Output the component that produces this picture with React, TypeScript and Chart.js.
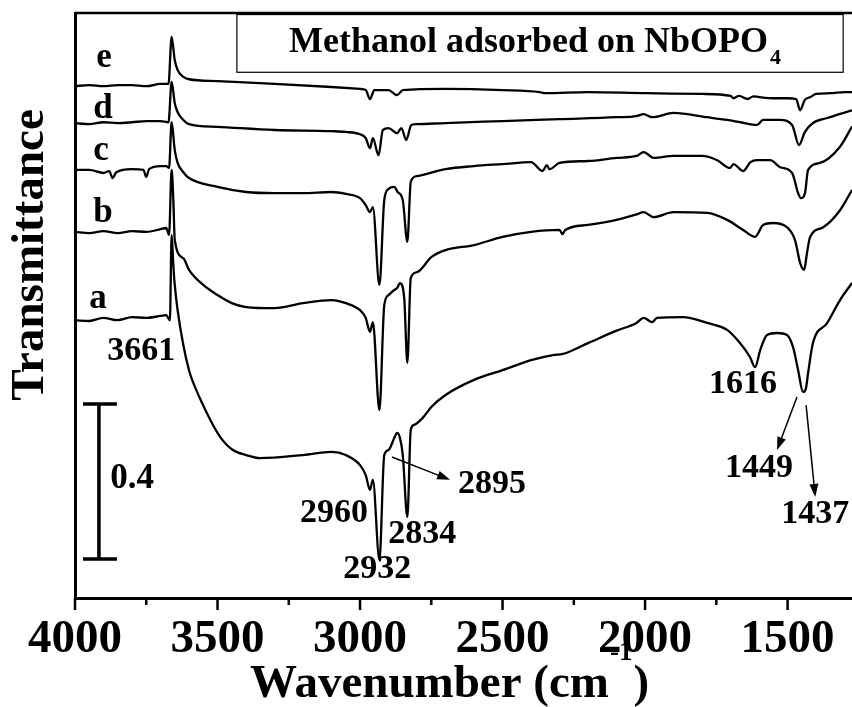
import React, { useEffect, useRef } from 'react';
import { Chart, registerables } from 'chart.js';

Chart.register(...registerables);

const FAMILY = "'Liberation Serif', 'Times New Roman', Times, serif";

// ---- spectra (wavenumber in cm-1, offset transmittance) ----
const waveA = [4000, 3950, 3900, 3850, 3800, 3750, 3700, 3680, 3667, 3661, 3655, 3650, 3640, 3620, 3600, 3589, 3537, 3491, 3446, 3400, 3351, 3200, 3100, 3050, 3000, 2980, 2965, 2955, 2932, 2915, 2900, 2880, 2870, 2860, 2850, 2834, 2822, 2810, 2780, 2750, 2700, 2600, 2500, 2400, 2323, 2288, 2200, 2100, 2030, 2005, 1975, 1958, 1867, 1782, 1712, 1667, 1632, 1614, 1596, 1572, 1537, 1502, 1481, 1463, 1446, 1436, 1428, 1411, 1361, 1316, 1274];
const transA = [0.717, 0.715, 0.723, 0.717, 0.725, 0.723, 0.728, 0.730, 0.717, 0.937, 0.859, 0.808, 0.743, 0.653, 0.588, 0.563, 0.477, 0.416, 0.382, 0.369, 0.361, 0.369, 0.377, 0.369, 0.343, 0.317, 0.279, 0.305, 0.098, 0.369, 0.382, 0.413, 0.426, 0.413, 0.369, 0.209, 0.434, 0.447, 0.465, 0.493, 0.524, 0.563, 0.588, 0.614, 0.627, 0.630, 0.658, 0.690, 0.710, 0.723, 0.712, 0.723, 0.725, 0.710, 0.692, 0.658, 0.622, 0.596, 0.640, 0.679, 0.684, 0.679, 0.648, 0.588, 0.532, 0.540, 0.581, 0.658, 0.710, 0.769, 0.813];

const waveB = [4000, 3950, 3900, 3850, 3800, 3750, 3700, 3680, 3670, 3661, 3655, 3650, 3620, 3600, 3550, 3500, 3450, 3400, 3300, 3200, 3100, 3050, 3000, 2980, 2965, 2955, 2932, 2915, 2900, 2880, 2870, 2860, 2845, 2834, 2822, 2800, 2750, 2700, 2600, 2500, 2400, 2300, 2290, 2280, 2200, 2100, 2030, 2005, 1970, 1900, 1782, 1712, 1656, 1614, 1586, 1551, 1502, 1474, 1456, 1442, 1432, 1421, 1375, 1316, 1274];
const transB = [0.945, 0.942, 0.947, 0.942, 0.947, 0.945, 0.952, 0.955, 0.937, 1.105, 1.027, 0.924, 0.877, 0.847, 0.808, 0.782, 0.761, 0.751, 0.748, 0.761, 0.769, 0.761, 0.743, 0.723, 0.687, 0.712, 0.485, 0.756, 0.782, 0.795, 0.800, 0.813, 0.774, 0.607, 0.826, 0.841, 0.880, 0.898, 0.911, 0.932, 0.945, 0.950, 0.939, 0.950, 0.963, 0.976, 0.990, 0.996, 0.983, 0.996, 0.994, 0.976, 0.950, 0.932, 0.963, 0.968, 0.957, 0.924, 0.865, 0.847, 0.890, 0.932, 0.957, 1.001, 1.053];

const waveC = [4000, 3950, 3900, 3880, 3868, 3855, 3800, 3760, 3750, 3740, 3700, 3680, 3670, 3661, 3650, 3640, 3620, 3600, 3500, 3400, 3300, 3200, 3100, 3050, 3000, 2980, 2965, 2955, 2932, 2915, 2900, 2880, 2868, 2850, 2834, 2822, 2800, 2700, 2600, 2500, 2400, 2360, 2345, 2335, 2300, 2200, 2100, 2030, 2005, 1970, 1900, 1800, 1747, 1702, 1690, 1656, 1630, 1607, 1561, 1526, 1484, 1463, 1453, 1439, 1428, 1386, 1316, 1274];
const transC = [1.105, 1.105, 1.097, 1.102, 1.084, 1.099, 1.107, 1.105, 1.087, 1.107, 1.115, 1.115, 1.110, 1.228, 1.156, 1.123, 1.099, 1.084, 1.061, 1.048, 1.045, 1.045, 1.048, 1.043, 1.032, 1.014, 0.996, 1.009, 0.808, 1.027, 1.056, 1.061, 1.048, 1.027, 0.919, 1.074, 1.089, 1.107, 1.115, 1.120, 1.125, 1.102, 1.117, 1.107, 1.123, 1.128, 1.136, 1.141, 1.151, 1.136, 1.141, 1.141, 1.130, 1.110, 1.120, 1.102, 1.125, 1.130, 1.130, 1.112, 1.097, 1.045, 1.032, 1.045, 1.105, 1.123, 1.165, 1.217];

const waveD = [4000, 3950, 3900, 3850, 3800, 3750, 3700, 3672, 3661, 3650, 3640, 3620, 3600, 3500, 3300, 3100, 3050, 3000, 2980, 2965, 2955, 2935, 2920, 2900, 2870, 2855, 2838, 2820, 2800, 2700, 2500, 2300, 2100, 2030, 2005, 1975, 1900, 1782, 1712, 1665, 1607, 1586, 1526, 1484, 1460, 1439, 1411, 1361, 1274];
const transD = [1.226, 1.223, 1.228, 1.226, 1.228, 1.231, 1.231, 1.228, 1.332, 1.277, 1.254, 1.234, 1.223, 1.216, 1.208, 1.205, 1.203, 1.197, 1.187, 1.161, 1.187, 1.143, 1.208, 1.213, 1.200, 1.213, 1.182, 1.221, 1.223, 1.226, 1.231, 1.236, 1.241, 1.244, 1.249, 1.241, 1.252, 1.241, 1.234, 1.228, 1.221, 1.234, 1.234, 1.221, 1.169, 1.203, 1.226, 1.239, 1.259];

const waveE = [4000, 3950, 3900, 3850, 3800, 3750, 3700, 3672, 3661, 3650, 3640, 3620, 3600, 3500, 3300, 3100, 3000, 2980, 2965, 2950, 2900, 2870, 2850, 2700, 2500, 2370, 2350, 2200, 2000, 1800, 1700, 1690, 1670, 1640, 1620, 1600, 1550, 1500, 1470, 1456, 1440, 1420, 1400, 1350, 1300, 1274];
const transE = [1.321, 1.324, 1.321, 1.324, 1.324, 1.321, 1.327, 1.327, 1.448, 1.388, 1.363, 1.345, 1.339, 1.334, 1.327, 1.319, 1.314, 1.311, 1.288, 1.311, 1.311, 1.298, 1.311, 1.314, 1.311, 1.306, 1.303, 1.306, 1.303, 1.301, 1.296, 1.290, 1.296, 1.288, 1.295, 1.293, 1.290, 1.290, 1.288, 1.259, 1.285, 1.293, 1.301, 1.303, 1.306, 1.306];

// ---- axis ----
const X_MIN = 1274;
const X_MAX = 4000;
const Y_MIN = 0;
const Y_MAX = 1.51;
const xTickValues = [1500, 2000, 2500, 3000, 3500, 4000];
const xMinorTickValues = [1500, 1750, 2000, 2250, 2500, 2750, 3000, 3250, 3500, 3750, 4000];

// ---- annotations ----
const curveNames = ['a', 'b', 'c', 'd', 'e'];
const curveNameX = [3919, 3902, 3909, 3902, 3898];
const curveNameY = [0.748, 0.970, 1.130, 1.239, 1.370];

const peakLabels = ['3661', '2960', '2932', '2834', '2895', '1616', '1449', '1437'];
const peakLabelX = [3768, 3091, 2940, 2782, 2537, 1656, 1600, 1403];
const peakLabelY = [0.614, 0.196, 0.052, 0.142, 0.271, 0.529, 0.312, 0.194];

const arrowFromX = [2888, 1467, 1435];
const arrowFromY = [0.364, 0.519, 0.498];
const arrowToX = [2684, 1537, 1403];
const arrowToY = [0.305, 0.382, 0.261];

const scaleBarX = 3916;
const scaleBarBottom = 0.1006;
const scaleBarLength = 0.4;
const scaleBarCapX = [3972, 3853];
const scaleBarLabel = '0.4';
const scaleBarLabelX = 3800;
const scaleBarLabelY = 0.284;

const titleMain = 'Methanol adsorbed on NbOPO';
const titleSub = '4';
const titleBoxX = [3432, 1305];
const titleBoxY = [1.357, 1.506];
const titleTextX = 3249;
const titleTextY = 1.409;

const xTitleMain = 'Wavenumber (cm';
const xTitleSup = '-1';
const xTitleEnd = ')';
const yTitle = 'Transmittance';

const toPoints = (xs: number[], ys: number[]) => xs.map((x, i) => ({ x, y: ys[i] }));

const overlayPlugin = {
  id: 'overlay',
  afterDraw(chart: any) {
    const { ctx, chartArea, scales } = chart;
    const xs = scales.x;
    const ys = scales.y;
    const X = (v: number) => xs.getPixelForValue(v);
    const Y = (v: number) => ys.getPixelForValue(v);
    ctx.save();
    ctx.strokeStyle = '#000';
    ctx.fillStyle = '#000';

    // top frame line
    ctx.lineWidth = 2.5;
    ctx.beginPath();
    ctx.moveTo(chartArea.left, chartArea.top);
    ctx.lineTo(chartArea.right, chartArea.top);
    ctx.stroke();

    // bottom tick marks (major + minor)
    ctx.lineWidth = 2.5;
    xMinorTickValues.forEach((v) => {
      const px = X(v);
      const len = xTickValues.includes(v) ? 12 : 7;
      ctx.beginPath();
      ctx.moveTo(px, chartArea.bottom);
      ctx.lineTo(px, chartArea.bottom + len);
      ctx.stroke();
    });

    // title box
    ctx.lineWidth = 1.2;
    const bx0 = X(titleBoxX[0]);
    const bx1 = X(titleBoxX[1]);
    const by0 = Y(titleBoxY[1]);
    const by1 = Y(titleBoxY[0]);
    ctx.strokeRect(bx0, by0, bx1 - bx0, by1 - by0);
    ctx.font = `bold 36px ${FAMILY}`;
    ctx.textAlign = 'left';
    ctx.textBaseline = 'alphabetic';
    const tx = X(titleTextX);
    const ty = Y(titleTextY);
    ctx.fillText(titleMain, tx, ty);
    const tw = ctx.measureText(titleMain).width;
    ctx.font = `bold 22px ${FAMILY}`;
    ctx.fillText(titleSub, tx + tw + 2, ty + 12);

    // curve names
    ctx.textAlign = 'center';
    ctx.font = `bold 35px ${FAMILY}`;
    curveNames.forEach((n, i) => ctx.fillText(n, X(curveNameX[i]), Y(curveNameY[i])));

    // peak labels
    ctx.font = `bold 34px ${FAMILY}`;
    peakLabels.forEach((t, i) => ctx.fillText(t, X(peakLabelX[i]), Y(peakLabelY[i])));

    // arrows
    ctx.lineWidth = 1.5;
    arrowFromX.forEach((_, i) => {
      const x0 = X(arrowFromX[i]);
      const y0 = Y(arrowFromY[i]);
      const x1 = X(arrowToX[i]);
      const y1 = Y(arrowToY[i]);
      const ang = Math.atan2(y1 - y0, x1 - x0);
      const hl = 13;
      const hw = 4.5;
      const bxp = x1 - hl * Math.cos(ang);
      const byp = y1 - hl * Math.sin(ang);
      ctx.beginPath();
      ctx.moveTo(x0, y0);
      ctx.lineTo(bxp, byp);
      ctx.stroke();
      ctx.beginPath();
      ctx.moveTo(x1, y1);
      ctx.lineTo(bxp + hw * Math.sin(ang), byp - hw * Math.cos(ang));
      ctx.lineTo(bxp - hw * Math.sin(ang), byp + hw * Math.cos(ang));
      ctx.closePath();
      ctx.fill();
    });

    // scale bar
    ctx.lineWidth = 3.5;
    ctx.beginPath();
    ctx.moveTo(X(scaleBarX), Y(scaleBarBottom));
    ctx.lineTo(X(scaleBarX), Y(scaleBarBottom + scaleBarLength));
    ctx.moveTo(X(scaleBarCapX[0]), Y(scaleBarBottom));
    ctx.lineTo(X(scaleBarCapX[1]), Y(scaleBarBottom));
    ctx.moveTo(X(scaleBarCapX[0]), Y(scaleBarBottom + scaleBarLength));
    ctx.lineTo(X(scaleBarCapX[1]), Y(scaleBarBottom + scaleBarLength));
    ctx.stroke();
    ctx.font = `bold 35px ${FAMILY}`;
    ctx.textAlign = 'center';
    ctx.fillText(scaleBarLabel, X(scaleBarLabelX), Y(scaleBarLabelY));

    // x axis title with superscript
    ctx.textAlign = 'left';
    ctx.font = `bold 47px ${FAMILY}`;
    const xtX = chartArea.left + 175;
    const xtY = chartArea.bottom + 99;
    ctx.fillText(xTitleMain, xtX, xtY);
    const w1 = ctx.measureText(xTitleMain).width;
    ctx.font = `bold 27px ${FAMILY}`;
    ctx.fillText(xTitleSup, xtX + w1 + 1, xtY - 37);
    const w2 = ctx.measureText(xTitleSup).width;
    ctx.font = `bold 47px ${FAMILY}`;
    ctx.fillText(xTitleEnd, xtX + w1 + w2 + 2, xtY);

    // y axis title
    ctx.save();
    ctx.translate(43, chartArea.top + 242);
    ctx.rotate(-Math.PI / 2);
    ctx.textAlign = 'center';
    ctx.font = `bold 47px ${FAMILY}`;
    ctx.fillText(yTitle, 0, 0);
    ctx.restore();

    ctx.restore();
  },
};

export default function App() {
  const ref = useRef<HTMLCanvasElement | null>(null);

  useEffect(() => {
    if (!ref.current) return;
    const series = [
      toPoints(waveA, transA),
      toPoints(waveB, transB),
      toPoints(waveC, transC),
      toPoints(waveD, transD),
      toPoints(waveE, transE),
    ];
    const chart = new Chart(ref.current, {
      type: 'line',
      data: {
        datasets: series.map((d, i) => ({
          label: curveNames[i],
          data: d,
          borderColor: '#000',
          borderWidth: 2.3,
          pointRadius: 0,
          fill: false,
          cubicInterpolationMode: 'monotone' as const,
          borderJoinStyle: 'round' as const,
        })),
      },
      options: {
        responsive: false,
        animation: false,
        layout: { padding: { top: 13, right: 0, left: 0, bottom: 0 } },
        plugins: { legend: { display: false }, tooltip: { enabled: false }, title: { display: false } },
        scales: {
          x: {
            type: 'linear',
            reverse: true,
            min: X_MIN,
            max: X_MAX,
            grid: { display: false, drawTicks: false },
            border: { display: true, width: 3, color: '#000' },
            afterBuildTicks: (s: any) => {
              s.ticks = xTickValues.map((v) => ({ value: v }));
            },
            ticks: {
              autoSkip: false,
              maxRotation: 0,
              minRotation: 0,
              padding: 14,
              color: '#000',
              font: { family: FAMILY, size: 47, weight: 'bold' },
              callback: (v: any) => String(v),
            },
            afterFit: (s: any) => {
              s.height = 109;
              s.paddingLeft = 0;
              s.paddingRight = 0;
            },
          },
          y: {
            type: 'linear',
            min: Y_MIN,
            max: Y_MAX,
            grid: { display: false, drawTicks: false },
            border: { display: true, width: 3, color: '#000' },
            ticks: { display: false },
            afterFit: (s: any) => {
              s.width = 75;
            },
          },
        },
      } as any,
      plugins: [overlayPlugin],
    });
    return () => chart.destroy();
  }, []);

  return (
    <div style={{ position: 'absolute', left: 0, top: 0, width: 852, height: 707, background: '#fff' }}>
      <canvas ref={ref} width={852} height={707} style={{ width: 852, height: 707, display: 'block' }} />
    </div>
  );
}
